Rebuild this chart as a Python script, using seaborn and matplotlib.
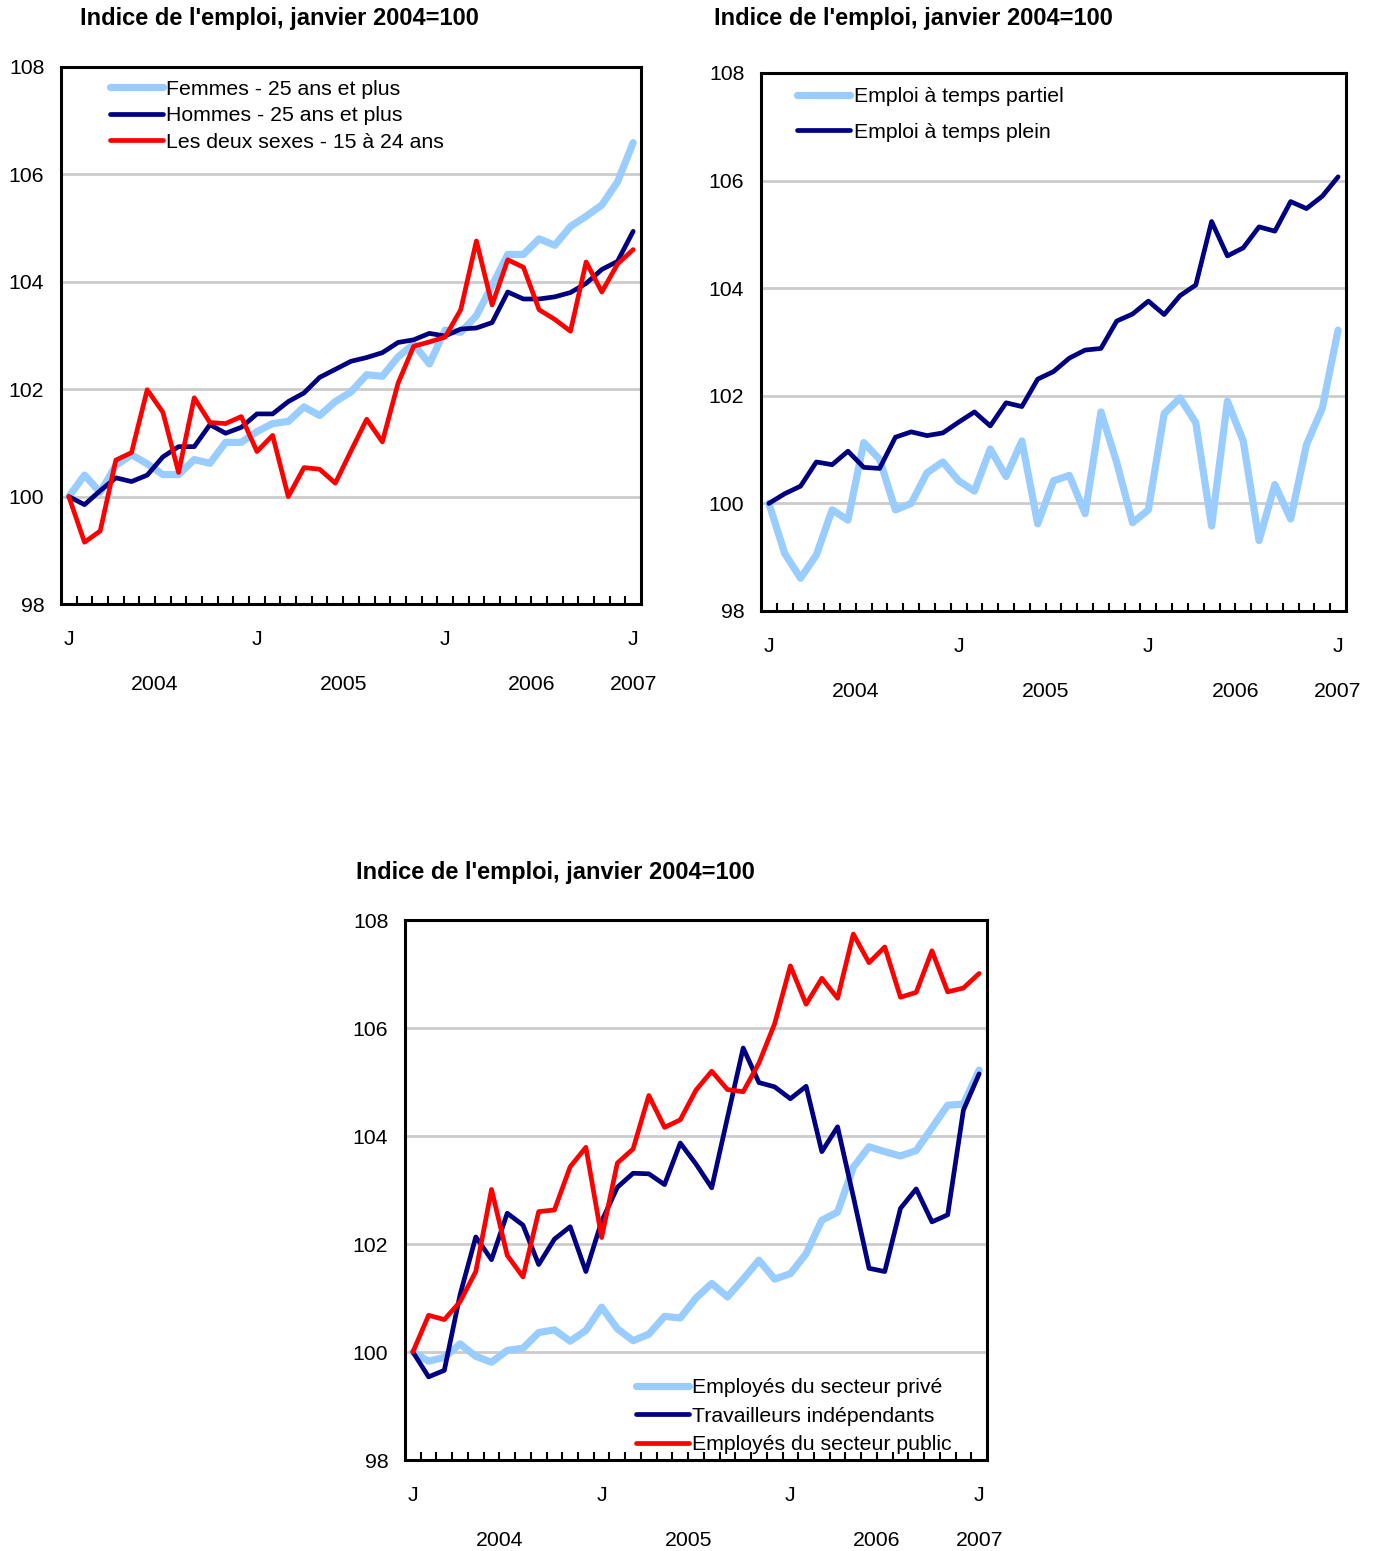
import matplotlib
matplotlib.use("Agg")
import matplotlib.pyplot as plt
import seaborn as sns
import numpy as np
import pandas as pd

sns.set_style("white")
plt.rcParams['font.family'] = ['Liberation Sans', 'DejaVu Sans']
plt.rcParams['font.size'] = 15.3
plt.rcParams.update({'text.color': 'black', 'xtick.color': 'black',
                     'ytick.color': 'black', 'axes.labelcolor': 'black'})

# monthly index, January 2004 = 100, Jan 2004 .. Jan 2007
femmes = [100.0, 100.40, 100.08, 100.58, 100.78, 100.61, 100.41, 100.41, 100.69, 100.62,
          101.01, 101.01, 101.21, 101.36, 101.40, 101.67, 101.51, 101.77, 101.95, 102.27,
          102.24, 102.60, 102.84, 102.47, 103.10, 103.06, 103.37, 103.93, 104.51, 104.51,
          104.80, 104.68, 105.03, 105.22, 105.43, 105.86, 106.59]
hommes = [100.0, 99.85, 100.11, 100.35, 100.28, 100.40, 100.74, 100.93, 100.93, 101.34,
          101.18, 101.29, 101.54, 101.54, 101.77, 101.93, 102.22, 102.37, 102.52, 102.59,
          102.68, 102.87, 102.92, 103.04, 102.99, 103.12, 103.14, 103.24, 103.81, 103.68,
          103.68, 103.72, 103.80, 103.97, 104.23, 104.38, 104.94]
jeunes = [100.0, 99.15, 99.36, 100.68, 100.82, 101.99, 101.57, 100.45, 101.84, 101.38,
          101.36, 101.49, 100.84, 101.14, 100.0, 100.54, 100.51, 100.25, 100.85, 101.44,
          101.02, 102.11, 102.80, 102.88, 102.97, 103.48, 104.76, 103.57, 104.41, 104.27,
          103.48, 103.30, 103.08, 104.37, 103.81, 104.33, 104.60]

partiel = [100.0, 99.07, 98.61, 99.04, 99.88, 99.69, 101.13, 100.82, 99.88, 100.0,
           100.57, 100.77, 100.42, 100.23, 101.01, 100.50, 101.16, 99.62, 100.42, 100.52,
           99.81, 101.70, 100.76, 99.64, 99.88, 101.67, 101.96, 101.50, 99.58, 101.90,
           101.16, 99.31, 100.35, 99.71, 101.09, 101.77, 103.22]
plein = [100.0, 100.18, 100.32, 100.77, 100.72, 100.97, 100.67, 100.65, 101.23, 101.33,
         101.26, 101.31, 101.51, 101.70, 101.44, 101.87, 101.80, 102.31, 102.45, 102.70,
         102.85, 102.88, 103.39, 103.52, 103.76, 103.51, 103.86, 104.06, 105.24, 104.60,
         104.75, 105.14, 105.06, 105.61, 105.48, 105.71, 106.07]

prive = [100.0, 99.83, 99.90, 100.15, 99.92, 99.81, 100.03, 100.07, 100.36, 100.41,
         100.20, 100.40, 100.83, 100.43, 100.21, 100.33, 100.66, 100.63, 101.0, 101.27,
         101.02, 101.35, 101.70, 101.35, 101.45, 101.82, 102.44, 102.59, 103.42, 103.80,
         103.71, 103.63, 103.73, 104.15, 104.57, 104.59, 105.22]
independants = [100.0, 99.54, 99.66, 101.06, 102.13, 101.71, 102.57, 102.35, 101.62, 102.09,
                102.32, 101.49, 102.42, 103.05, 103.31, 103.30, 103.10, 103.87, 103.48, 103.04,
                104.34, 105.63, 104.99, 104.91, 104.69, 104.92, 103.71, 104.17, 102.88, 101.55,
                101.49, 102.66, 103.02, 102.41, 102.54, 104.48, 105.15]
public = [100.0, 100.68, 100.60, 100.93, 101.49, 103.01, 101.79, 101.39, 102.60, 102.63,
          103.43, 103.79, 102.12, 103.50, 103.76, 104.75, 104.16, 104.30, 104.85, 105.20,
          104.86, 104.82, 105.35, 106.08, 107.15, 106.44, 106.92, 106.55, 107.74, 107.21,
          107.50, 106.57, 106.66, 107.43, 106.67, 106.74, 107.01]

month_ticks = [0, 12, 24, 36]
month_labels = ["J", "J", "J", "J"]
years = ["2004", "2005", "2006", "2007"]
year_pos = [5.5, 17.5, 29.5, 36]

title = "Indice de l'emploi, janvier 2004=100"
LIGHT = "#99CCFF"
NAVY = "#000080"
RED = "#FF0000"
FS = 15.3


def draw_panel(ax, series, legend_kw):
    months = np.arange(len(series[0][1]))
    for name, vals, color, lw in series:
        df = pd.DataFrame({"mois": months, "indice": vals})
        sns.lineplot(data=df, x="mois", y="indice", ax=ax, color=color,
                     linewidth=lw, label=name, solid_capstyle="round")
    ax.set_xlim(-0.5, 36.5)
    ax.set_ylim(98, 108)
    ax.set_yticks([98, 100, 102, 104, 106, 108])
    ax.yaxis.grid(True, color="#cccccc", linewidth=2)
    ax.set_axisbelow(True)
    ax.set_xticks(month_ticks)
    ax.set_xticklabels(month_labels)
    ax.set_xticks(np.arange(0.5, 36, 1), minor=True)
    ax.tick_params(axis="x", which="major", length=0, pad=19, labelsize=FS)
    ax.tick_params(axis="x", which="minor", length=6, width=1.5, direction="in",
                   color="black", bottom=True)
    ax.tick_params(axis="y", length=0, pad=12, labelsize=FS)
    ax.set_xlabel("")
    ax.set_ylabel("")
    for sp in ax.spines.values():
        sp.set_visible(True)
        sp.set_color("black")
        sp.set_linewidth(2.2)
    for yr, xp in zip(years, year_pos):
        ax.text(xp, -0.15, yr, transform=ax.get_xaxis_transform(),
                ha="center", va="center", fontsize=FS)
    ax.legend(frameon=False, handlelength=2.5, handletextpad=0.15,
              borderaxespad=0, borderpad=0, fontsize=FS, **legend_kw)


fig = plt.figure(figsize=(13.8, 15.51), dpi=100)

ax1 = fig.add_axes([61 / 1380, 1 - 604 / 1551, 580 / 1380, 537 / 1551])
draw_panel(ax1, [("Femmes - 25 ans et plus", femmes, LIGHT, 5.2),
                 ("Hommes - 25 ans et plus", hommes, NAVY, 3.4),
                 ("Les deux sexes - 15 à 24 ans", jeunes, RED, 3.4)],
           dict(loc="center left", bbox_to_anchor=(0.084, 0.909), labelspacing=0.35))
fig.text(80 / 1380, 1 - 19 / 1551, title, fontsize=17, fontweight="bold",
         ha="left", va="center")

ax2 = fig.add_axes([761 / 1380, 1 - 611 / 1551, 585 / 1380, 538 / 1551])
draw_panel(ax2, [("Emploi à temps partiel", partiel, LIGHT, 5.2),
                 ("Emploi à temps plein", plein, NAVY, 3.4)],
           dict(loc="center left", bbox_to_anchor=(0.062, 0.923), labelspacing=0.77))
fig.text(714 / 1380, 1 - 19 / 1551, title, fontsize=17, fontweight="bold",
         ha="left", va="center")

ax3 = fig.add_axes([405 / 1380, 1 - 1460 / 1551, 582 / 1380, 540 / 1551])
draw_panel(ax3, [("Employés du secteur privé", prive, LIGHT, 5.2),
                 ("Travailleurs indépendants", independants, NAVY, 3.4),
                 ("Employés du secteur public", public, RED, 3.4)],
           dict(loc="center left", bbox_to_anchor=(0.397, 0.081), labelspacing=0.44))
fig.text(356 / 1380, 1 - 872 / 1551, title, fontsize=17, fontweight="bold",
         ha="left", va="center")

fig.savefig("out.png", dpi=100)
